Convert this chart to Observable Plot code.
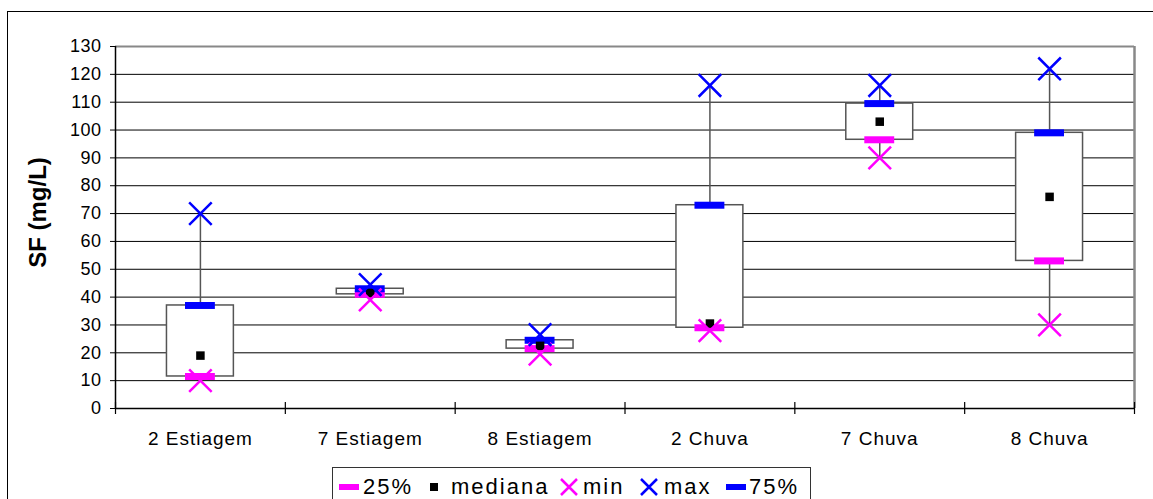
<!DOCTYPE html>
<html><head><meta charset="utf-8">
<script src="https://cdn.jsdelivr.net/npm/d3@7"></script>
<script src="https://cdn.jsdelivr.net/npm/@observablehq/plot@0.6"></script>
<style>
body{margin:0;background:#fff;}
#wrap{position:relative;width:1153px;height:499px;overflow:hidden;font-family:"Liberation Sans",Arial,sans-serif;background:#fff;}
#outer{position:absolute;left:7px;top:11px;width:1200px;height:600px;border:1px solid #000;box-sizing:border-box;}
#chart{position:absolute;left:0;top:0;}
#legend{position:absolute;left:332px;top:467px;width:479px;height:40px;border:1px solid #333;border-bottom:none;background:#fff;box-sizing:border-box;}
#legend .it{position:absolute;top:7px;height:24px;line-height:24px;display:flex;align-items:center;font-size:22px;letter-spacing:2px;color:#000;white-space:nowrap;}
g[aria-label="x-axis tick label"] text{letter-spacing:1px;}
g[aria-label="y-axis tick label"] text{letter-spacing:0.5px;}
</style>
</head><body>
<div id="wrap"><div id="outer"></div><div id="chart"></div><div id="legend"></div></div>
<script>
const categories = ["2 Estiagem","7 Estiagem","8 Estiagem","2 Chuva","7 Chuva","8 Chuva"];
const q1Values     = [11.5, 41, 21.5, 29, 96.5, 53];
const medianValues = [19, 41.5, 22.5, 30.5, 103, 76];
const minValues    = [10, 39, 19.5, 28, 90, 30];
const maxValues    = [70, 44.5, 26.5, 116, 116, 122];
const q3Values     = [37, 43, 24.5, 73, 109.5, 99];
const yTicks = [0,10,20,30,40,50,60,70,80,90,100,110,120,130];
const boundaries = [0,1,2,3,4,5,6];
const legendLabels = ["25%","mediana","min","max","75%"];
const yTitle = "SF (mg/L)";

const rows = categories.map((c, i) => ({
  c, pos: i + 0.5, q1: q1Values[i], med: medianValues[i], min: minValues[i], max: maxValues[i], q3: q3Values[i]
}));
const BOX = 0.197, QB = 0.088;
const PINK = "#ff00ff", BLUE = "#0000ff";

const chart = Plot.plot({
  width: 1153, height: 499,
  marginLeft: 115, marginRight: 19, marginTop: 46, marginBottom: 91,
  style: {fontFamily: '"Liberation Sans", Arial, sans-serif', color: "#000", background: "transparent", overflow: "visible"},
  x: {domain: [0, 6]},
  y: {domain: [0, 130]},
  marks: [
    Plot.ruleY(yTicks.filter(d => d > 0 && d < 130), {stroke: "#000", strokeWidth: 1}),
    Plot.ruleY([130], {stroke: "#888", strokeWidth: 2}),
    Plot.ruleX([6], {stroke: "#888", strokeWidth: 2.5}),
    Plot.ruleX(rows, {x: "pos", y1: "min", y2: "max", stroke: "#555", strokeWidth: 1.5}),
    Plot.rect(rows, {x1: d => d.pos - BOX, x2: d => d.pos + BOX, y1: "q1", y2: "q3", fill: "#fff", stroke: "#555", strokeWidth: 1.5}),
    Plot.ruleY(rows, {y: "q1", x1: d => d.pos - QB, x2: d => d.pos + QB, stroke: PINK, strokeWidth: 7}),
    Plot.ruleY(rows, {y: "q3", x1: d => d.pos - QB, x2: d => d.pos + QB, stroke: BLUE, strokeWidth: 7}),
    Plot.dot(rows, {x: "pos", y: "med", symbol: "square", r: 4.8, fill: "#000"}),
    Plot.dot(rows, {x: "pos", y: "min", symbol: "times", r: 10.3, stroke: PINK, strokeWidth: 2.5}),
    Plot.dot(rows, {x: "pos", y: "max", symbol: "times", r: 10.3, stroke: BLUE, strokeWidth: 2.5}),
    Plot.ruleX([0], {stroke: "#000", strokeWidth: 1.5}),
    Plot.ruleY([0], {stroke: "#000", strokeWidth: 1.5}),
    Plot.ruleX(boundaries, {x: d => d, y1: 0, y2: 0, insetTop: -6, insetBottom: -6, stroke: "#000", strokeWidth: 1.2}),
    Plot.axisY({ticks: yTicks, tickFormat: d => String(d), tickSize: 5, tickPadding: 9, fontSize: 18, label: null}),
    Plot.axisX({ticks: categories.map((_, i) => i + 0.5), tickFormat: d => categories[Math.floor(d)], tickSize: 0, tickPadding: 23, fontSize: 19, label: null}),
    Plot.text([yTitle], {text: d => d, frameAnchor: "left", textAnchor: "middle", rotate: -90, dx: -77, dy: -15, fontSize: 24, fontWeight: "bold"})
  ]
});
document.getElementById("chart").appendChild(chart);

// legend
const legend = document.getElementById("legend");
const sym = {
  "25%": `<svg width="20" height="8"><rect x="0" y="1" width="20" height="6" fill="${PINK}"/></svg>`,
  "mediana": `<svg width="8" height="8"><rect x="0" y="0" width="8" height="8" fill="#000"/></svg>`,
  "min": `<svg width="20" height="20"><path d="M2,2L18,18M18,2L2,18" stroke="${PINK}" stroke-width="2.5"/></svg>`,
  "max": `<svg width="20" height="20"><path d="M2,2L18,18M18,2L2,18" stroke="${BLUE}" stroke-width="2.5"/></svg>`,
  "75%": `<svg width="20" height="8"><rect x="0" y="1" width="20" height="6" fill="${BLUE}"/></svg>`
};
const symLeft = [6, 97, 226, 306, 393];
const textLeft = [30, 118, 250, 331, 416];
legendLabels.forEach((lab, i) => {
  const s = document.createElement("div");
  s.className = "it"; s.style.left = symLeft[i] + "px"; s.innerHTML = sym[lab];
  legend.appendChild(s);
  const t = document.createElement("div");
  t.className = "it"; t.style.left = textLeft[i] + "px"; t.textContent = lab;
  legend.appendChild(t);
});
</script>
</body></html>
